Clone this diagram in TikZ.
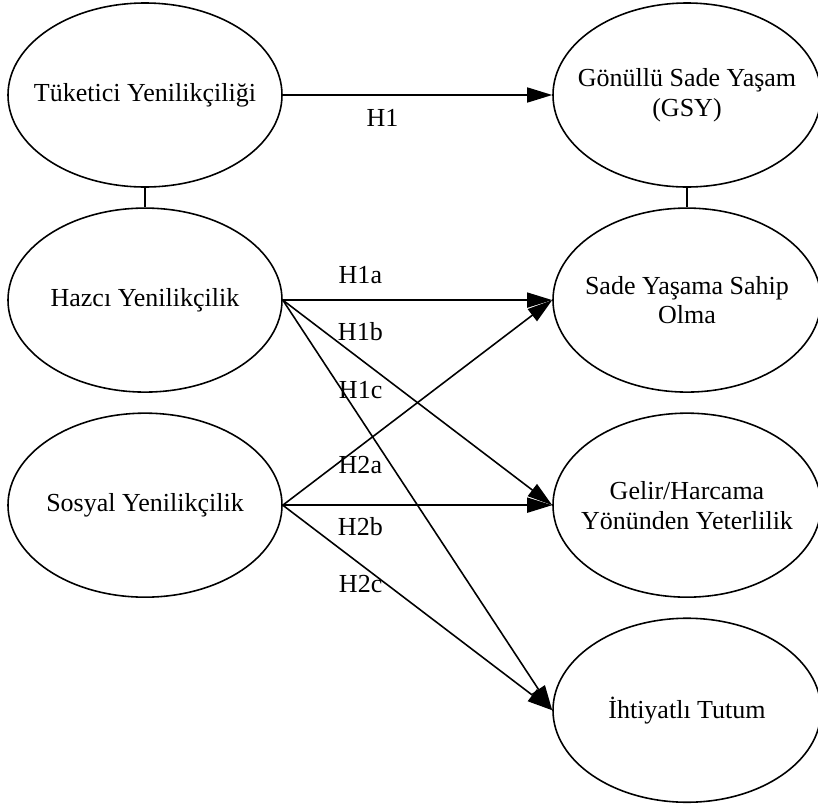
\documentclass[tikz,border=0pt]{standalone}
\usepackage{fontspec}
\setmainfont{Liberation Serif}
\usepackage{tikz}
\usetikzlibrary{arrows.meta,positioning,shapes.geometric}
\tikzset{
  construct/.style={draw,ellipse,line width=0.9pt,align=center,inner xsep=-0.35cm,inner ysep=1pt,
    minimum width=5.48cm,minimum height=3.68cm,font=\fontsize{14.8}{17}\selectfont},
  outcome/.style={construct,minimum width=5.36cm},
  arrow/.style={-{Triangle[length=5mm,width=3mm]},line width=0.9pt},
  link/.style={line width=0.9pt},
  labelstyle/.style={font=\fontsize{14.8}{17}\selectfont,inner sep=0pt}
}

\begin{document}
\begin{tikzpicture}[node distance=0.39cm]
  \useasboundingbox (0,0) rectangle (16.36,-16.1);
  % left column
  \node[construct] (tuk) at (2.9,-1.9) {Tüketici Yenilikçiliği};
  \node[construct,below=of tuk] (haz) {Hazcı Yenilikçilik};
  \node[construct,below=of haz] (sos) {Sosyal Yenilikçilik};
  % right column
  \node[outcome] (gsy) at (13.74,-1.9) {Gönüllü Sade Yaşam\\(GSY)};
  \node[outcome,below=of gsy] (sade) {Sade Yaşama Sahip\\Olma};
  \node[outcome,below=of sade] (gelir) {Gelir/Harcama\\Yönünden Yeterlilik};
  \node[outcome,below=of gelir] (ihti) {İhtiyatlı Tutum};
  \draw[link] (tuk) -- (haz);
  \draw[link] (gsy) -- (sade);
  % hypotheses
  \draw[arrow] (tuk.east) -- node[labelstyle,pos=.37,yshift=-0.46cm] (h1) {H1} (gsy.west);
  \draw[arrow] (haz.east) -- node[labelstyle,pos=.288,yshift=0.5cm] (h1a) {H1a} (sade.west);
  \draw[arrow] (haz.east) -- node[labelstyle,pos=.288,yshift=0.56cm] (h1b) {H1b} (gelir.west);
  \draw[arrow] (haz.east) -- node[labelstyle,pos=.289,yshift=0.58cm] (h1c) {H1c} (ihti.west);
  \draw[arrow] (sos.east) -- node[labelstyle,pos=.288,yshift=-0.37cm] (h2a) {H2a} (sade.west);
  \draw[arrow] (sos.east) -- node[labelstyle,pos=.288,yshift=-0.42cm] (h2b) {H2b} (gelir.west);
  \draw[arrow] (sos.east) -- node[labelstyle,pos=.289,yshift=-0.4cm] (h2c) {H2c} (ihti.west);
\end{tikzpicture}
\end{document}
